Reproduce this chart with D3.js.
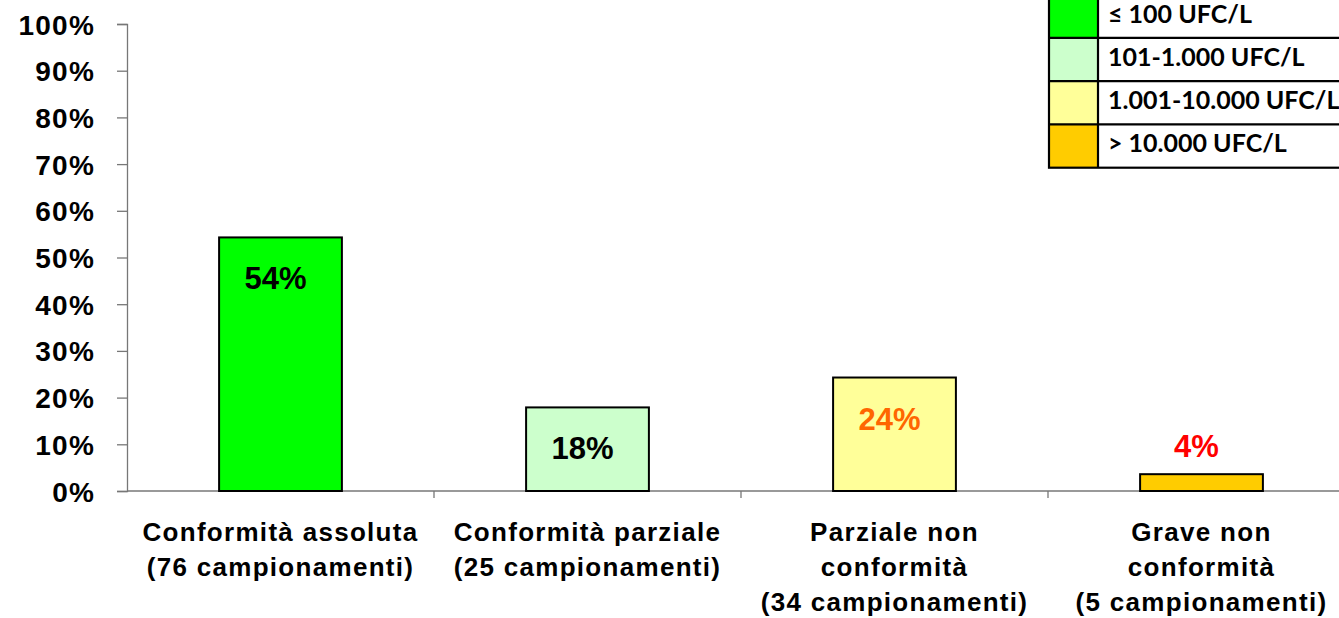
<!DOCTYPE html>
<html>
<head>
<meta charset="utf-8">
<script src="https://cdn.jsdelivr.net/npm/d3@7"></script>
<style>
  html, body { margin: 0; padding: 0; background: #fff; }
  svg { display: block; }
</style>
</head>
<body>
<svg id="chart" width="1339" height="618"></svg>
<script>
// ---- data ----
const categories = [
  "Conformità assoluta|(76 campionamenti)",
  "Conformità parziale|(25 campionamenti)",
  "Parziale non|conformità|(34 campionamenti)",
  "Grave non|conformità|(5 campionamenti)"
];
const values = [54.3, 17.9, 24.3, 3.6];
const valueLabels = ["54%", "18%", "24%", "4%"];
const yTicks = [0, 10, 20, 30, 40, 50, 60, 70, 80, 90, 100];
const legendLabels = ["≤ 100 UFC/L", "101-1.000 UFC/L", "1.001-10.000 UFC/L", "> 10.000 UFC/L"];

// ---- styles ----
const barColors = ["#00FF00", "#CCFFCC", "#FFFF99", "#FFCC00"];
const labelColors = ["#000000", "#000000", "#FF6600", "#FF0000"];
const axisColor = "#777777";

const svg = d3.select("#chart");
const mLeft = 127, mTop = 24, mBottom = 491, bandStep = 307;

const x = d3.scaleBand()
  .domain(categories)
  .range([mLeft, mLeft + bandStep * categories.length])
  .padding(0);
const y = d3.scaleLinear().domain([0, 100]).range([mBottom, mTop]);

const barW = x.bandwidth() * 0.4;

// y axis
const yAxis = svg.append("g")
  .attr("transform", `translate(${mLeft},0)`)
  .call(d3.axisLeft(y).tickValues(yTicks).tickSize(10).tickPadding(22).tickFormat(d => d + "%"));
yAxis.select(".domain").attr("stroke", axisColor).attr("stroke-width", 1.3);
yAxis.selectAll(".tick line").attr("stroke", axisColor).attr("stroke-width", 1.3);
yAxis.selectAll(".tick text")
  .attr("font-family", "'Liberation Sans', Arial, sans-serif")
  .attr("font-weight", "bold")
  .attr("font-size", 28)
  .attr("letter-spacing", 1.2)
  .attr("fill", "#000")
  .attr("dy", "0.36em");

// x axis line with band boundary ticks
const xAxisG = svg.append("g");
xAxisG.append("line")
  .attr("x1", mLeft).attr("x2", x.range()[1])
  .attr("y1", y(0)).attr("y2", y(0))
  .attr("stroke", axisColor).attr("stroke-width", 1.3);
xAxisG.selectAll("line.bt")
  .data(categories)
  .enter().append("line")
  .attr("class", "bt")
  .attr("x1", d => x(d) + x.bandwidth())
  .attr("x2", d => x(d) + x.bandwidth())
  .attr("y1", y(0)).attr("y2", y(0) + 7)
  .attr("stroke", axisColor).attr("stroke-width", 1.3);

// bars
svg.selectAll("rect.bar")
  .data(values)
  .enter().append("rect")
  .attr("class", "bar")
  .attr("x", (d, i) => x(categories[i]) + (x.bandwidth() - barW) / 2)
  .attr("y", d => y(d))
  .attr("width", barW)
  .attr("height", d => y(0) - y(d))
  .attr("fill", (d, i) => barColors[i])
  .attr("stroke", "#000")
  .attr("stroke-width", 2);

// value labels
svg.selectAll("text.vl")
  .data(values)
  .enter().append("text")
  .attr("class", "vl")
  .attr("x", (d, i) => x(categories[i]) + x.bandwidth() / 2 - 5)
  .attr("y", d => d >= 10 ? y(d) + 52 : y(d) - 17)
  .attr("text-anchor", "middle")
  .attr("font-family", "'Liberation Sans', Arial, sans-serif")
  .attr("font-weight", "bold")
  .attr("font-size", 31)
  .attr("fill", (d, i) => labelColors[i])
  .text((d, i) => valueLabels[i]);

// category labels
const catG = svg.selectAll("text.cat")
  .data(categories)
  .enter().append("text")
  .attr("class", "cat")
  .attr("text-anchor", "middle")
  .attr("font-family", "'Liberation Sans', Arial, sans-serif")
  .attr("font-weight", "bold")
  .attr("font-size", 26)
  .attr("letter-spacing", 1.3)
  .attr("fill", "#000");
catG.each(function(d) {
  const t = d3.select(this);
  const cx = x(d) + x.bandwidth() / 2;
  d.split("|").forEach((line, k) => {
    t.append("tspan").attr("x", cx).attr("y", 541 + k * 35).text(line);
  });
});

// legend
const lgX = 1049, lgTop = -5.5, rowH = 43.3, swW = 49, lgW = 330;
const lg = svg.append("g");
lg.selectAll("rect.sw")
  .data(legendLabels)
  .enter().append("rect")
  .attr("x", lgX).attr("y", (d, i) => lgTop + i * rowH)
  .attr("width", swW).attr("height", rowH)
  .attr("fill", (d, i) => barColors[i]);
lg.append("rect")
  .attr("x", lgX).attr("y", lgTop)
  .attr("width", lgW).attr("height", rowH * legendLabels.length)
  .attr("fill", "none").attr("stroke", "#000").attr("stroke-width", 2.2);
lg.append("line")
  .attr("x1", lgX + swW).attr("x2", lgX + swW)
  .attr("y1", lgTop).attr("y2", lgTop + rowH * legendLabels.length)
  .attr("stroke", "#000").attr("stroke-width", 2.2);
lg.selectAll("line.rw")
  .data(legendLabels.slice(1))
  .enter().append("line")
  .attr("x1", lgX).attr("x2", lgX + lgW)
  .attr("y1", (d, i) => lgTop + (i + 1) * rowH)
  .attr("y2", (d, i) => lgTop + (i + 1) * rowH)
  .attr("stroke", "#000").attr("stroke-width", 2.2);
lg.selectAll("text.lt")
  .data(legendLabels)
  .enter().append("text")
  .attr("x", lgX + swW + 10)
  .attr("y", (d, i) => lgTop + i * rowH + 28)
  .attr("font-family", "Lato, 'Open Sans', sans-serif")
  .attr("font-weight", "bold")
  .attr("font-size", 25)
  .attr("fill", "#000")
  .text(d => d);
</script>
</body>
</html>
